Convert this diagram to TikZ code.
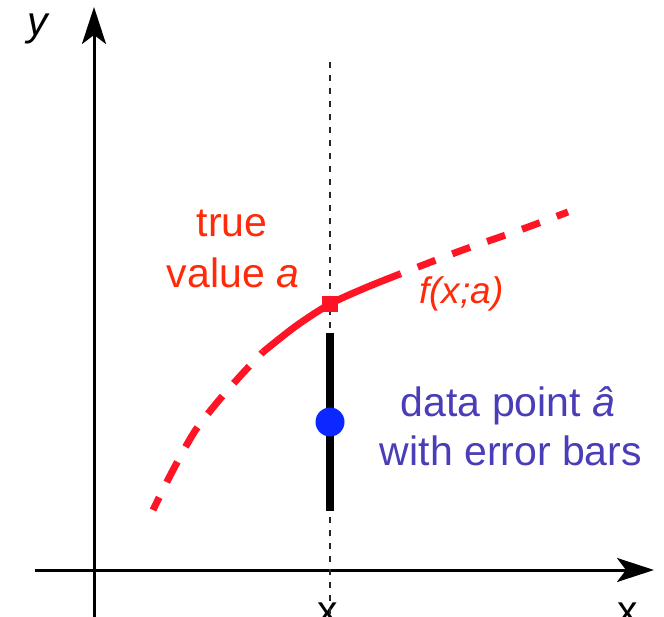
\documentclass[tikz,border=0pt]{standalone}
\usepackage{fontspec}
\setmainfont{Liberation Sans}
\usetikzlibrary{arrows.meta}
\definecolor{curvered}{HTML}{FF1426}
\definecolor{labelred}{HTML}{FF2A0A}
\definecolor{labelblue}{HTML}{4A3DB8}
\definecolor{dotblue}{HTML}{0A28FF}
\tikzset{
  axisline/.style={line width=3pt, -{Stealth[length=37pt, width=24pt, inset=9pt]}},
  curveline/.style={curvered, line width=7pt},
  bigtext/.style={anchor=base, inner sep=0pt, font=\fontsize{41}{49}\selectfont},
  functext/.style={anchor=base west, inner sep=0pt, font=\fontsize{37}{44}\selectfont\itshape, text=labelred},
}
\begin{document}
\begin{tikzpicture}[x=1pt,y=-1pt]
\clip (0,0) rectangle (664,617);
\fill[white] (0,0) rectangle (664,617);
% axes
\coordinate (yb) at (94,640);
\coordinate (yt) at (94,7);
\coordinate (xl) at (35,570);
\coordinate (xr) at (654,570);
\draw[axisline] (yb) -- (yt);
\draw[axisline] (xl) -- (xr);
\node[bigtext, font=\fontsize{41}{49}\selectfont\itshape] (ylab) at (38,36) {y};
\node[bigtext] (xlab1) at (328,624) {x};
\node[bigtext] (xlab2) at (628,624) {x};
% dotted vertical line
\coordinate (vtop) at (330,62);
\coordinate (vbot) at (330,640);
\draw[line width=2pt, black!85, dash pattern=on 6pt off 7pt] (vtop) -- (vbot);
% error bar
\coordinate (ebt) at (330,333);
\coordinate (ebb) at (330,511);
\draw[line width=7.5pt] (ebt) -- (ebb);
% curve
\draw[curveline, dash pattern=on 23pt off 17pt, dash phase=9pt]
  plot[smooth] coordinates {(153,510) (172,472) (195,431) (220,399) (243,373) (263,352)};
\draw[curveline]
  plot[smooth] coordinates {(263,352) (296,326) (330,304) (365,288) (400,274)};
\draw[curveline, dash pattern=on 19pt off 18pt, dash phase=18pt]
  plot[smooth] coordinates {(400,274) (460,251) (520,230) (568,212)};
% true value marker
\node[fill=curvered, minimum size=16pt, inner sep=0pt] (truept) at (330,304) {};
% data point
\node[circle, fill=dotblue, minimum size=29pt, inner sep=0pt] (datapt) at (330,422) {};
% labels
\node[bigtext, text=labelred] (true1) at (232,237) {true};
\node[bigtext, text=labelred] (true2) at (233,288) {value \textit{a}};
\node[functext] (flab) at (419,304) {f(x;a)};
\node[bigtext, text=labelblue] (data1) at (508,417) {data point \textit{â}};
\node[bigtext, text=labelblue] (data2) at (511,465) {with error bars};
\end{tikzpicture}
\end{document}
